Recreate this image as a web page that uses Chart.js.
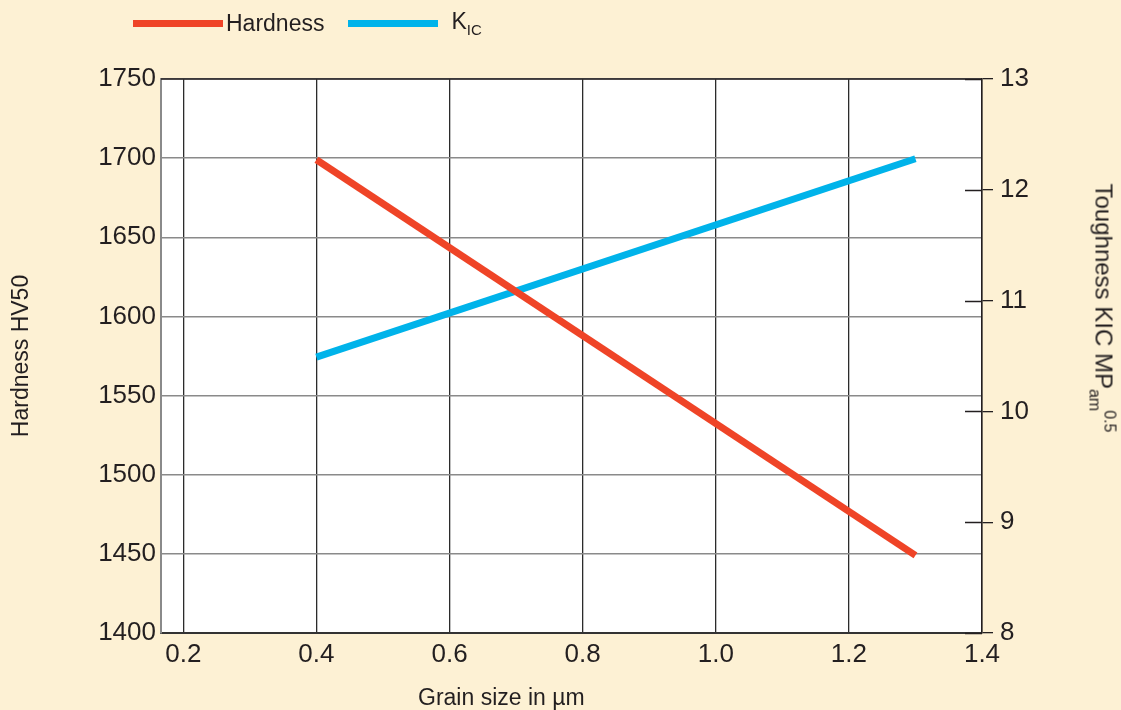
<!DOCTYPE html>
<html>
<head>
<meta charset="utf-8">
<script src="https://cdn.jsdelivr.net/npm/chart.js@4.4.1/dist/chart.umd.min.js"></script>
<style>
  html, body { margin: 0; padding: 0; }
  body {
    width: 1121px; height: 710px; overflow: hidden;
    background: #fdf1d4; position: relative;
    font-family: "Liberation Sans", Arial, sans-serif; color: #231f20;
  }
  #wrap { position: absolute; left: 0; top: 0; width: 1121px; height: 710px; }
  .legend { position: absolute; top: 8px; left: 133px; font-size: 23px; display: flex; align-items: center; }
  .legend .swatch { display: inline-block; width: 90px; height: 7px; }
  .legend .item { display: flex; align-items: center; }
  .legend sub { font-size: 15px; vertical-align: -6px; }
  .xtitle { position: absolute; left: 418px; top: 684px; font-size: 23px; }
  .ytitle-right {
    position: absolute; left: 1102px; top: 308px; font-size: 24px; white-space: nowrap;
    transform: translate(-50%, -50%) rotate(90deg);
  }
  .ytitle-right sub { font-size: 16px; vertical-align: -6px; }
  .ytitle-right sup { font-size: 16px; vertical-align: 9px; margin-left: -1px; }
</style>
</head>
<body>
<div id="wrap"><canvas id="grainChart" width="1121" height="710"></canvas></div>
<div class="legend">
  <span class="item"><span class="swatch" style="background:#ef4427"></span><span style="margin-left:3px">Hardness</span></span>
  <span class="item" style="margin-left:24px"><span class="swatch" style="background:#00b3ea"></span><span style="margin-left:13px">K<sub>IC</sub></span></span>
</div>
<div class="xtitle">Grain size in µm</div>
<div class="ytitle-right">Toughness KIC MP<sub>am</sub><sup>0.5</sup></div>
<script>
const grainSize = [0.4, 1.3];
const hardness = [1699, 1449];
const toughness = [10.49, 12.28];
const xTicks = [0.2, 0.4, 0.6, 0.8, 1.0, 1.2, 1.4];
const hardnessTicks = [1400, 1450, 1500, 1550, 1600, 1650, 1700, 1750];
const toughnessTicks = [8, 9, 10, 11, 12, 13];

const ink = "#231f20";
const font = { family: "'Liberation Sans', Arial, sans-serif", size: 26 };

// white plot area, dark top edge, and the inner half of the right-hand ticks
const plotFrame = {
  id: "plotFrame",
  beforeDraw(chart) {
    const { ctx, chartArea: a } = chart;
    ctx.save();
    ctx.fillStyle = "#ffffff";
    ctx.fillRect(a.left, a.top, a.right - a.left, a.bottom - a.top);
    ctx.restore();
  },
  afterDraw(chart) {
    const { ctx, chartArea: a } = chart;
    const y1 = chart.scales.y1;
    ctx.save();
    ctx.strokeStyle = ink;
    ctx.lineWidth = 1.3;
    ctx.beginPath();
    ctx.moveTo(a.left, a.top);
    ctx.lineTo(a.right, a.top);
    y1.ticks.forEach(t => {
      const py = Math.round(y1.getPixelForValue(t.value)) + 0.5;
      ctx.moveTo(a.right - 17, py);
      ctx.lineTo(a.right, py);
    });
    ctx.stroke();
    ctx.restore();
  }
};

new Chart(document.getElementById("grainChart"), {
  type: "scatter",
  data: {
    datasets: [
      {
        label: "Hardness",
        data: grainSize.map((x, i) => ({ x, y: hardness[i] })),
        showLine: true,
        borderColor: "#ef4427",
        borderWidth: 7,
        borderCapStyle: "butt",
        pointRadius: 0,
        yAxisID: "y"
      },
      {
        label: "KIC",
        data: grainSize.map((x, i) => ({ x, y: toughness[i] })),
        showLine: true,
        borderColor: "#00b3ea",
        borderWidth: 7,
        borderCapStyle: "butt",
        pointRadius: 0,
        yAxisID: "y1"
      }
    ]
  },
  options: {
    responsive: false,
    animation: false,
    layout: { padding: { top: 79, left: 0, right: 0, bottom: 0 } },
    plugins: { legend: { display: false }, tooltip: { enabled: false } },
    scales: {
      x: {
        type: "linear",
        min: 0.1665,
        max: 1.4,
        afterBuildTicks: s => { s.ticks = xTicks.map(v => ({ value: v })); },
        afterFit: s => { s.height = 77; },
        ticks: { color: ink, font, padding: 6, callback: v => v.toFixed(1) },
        grid: { color: "#2b2b2b", lineWidth: 1.3, drawTicks: false },
        border: { color: "#333333", width: 2 }
      },
      y: {
        position: "left",
        min: 1400,
        max: 1750,
        afterBuildTicks: s => { s.ticks = hardnessTicks.map(v => ({ value: v })); },
        afterFit: s => { s.width = 161; },
        ticks: { color: ink, font, padding: 5, callback: v => String(v) },
        grid: { color: "#8a8a8a", lineWidth: 1.5, drawTicks: false },
        border: { color: "#8a8a8a", width: 2 },
        title: {
          display: true,
          text: "Hardness HV50",
          color: ink,
          font: { family: font.family, size: 23 },
          padding: { top: 8, bottom: 0 }
        }
      },
      y1: {
        position: "right",
        min: 8,
        max: 13,
        afterBuildTicks: s => { s.ticks = toughnessTicks.map(v => ({ value: v })); },
        afterFit: s => { s.width = 139; },
        ticks: { color: ink, font, padding: 7, callback: v => String(v) },
        grid: { drawOnChartArea: false, color: ink, lineWidth: 1.3, tickLength: 11 },
        border: { color: ink, width: 1.5 }
      }
    }
  },
  plugins: [plotFrame]
});
</script>
</body>
</html>
